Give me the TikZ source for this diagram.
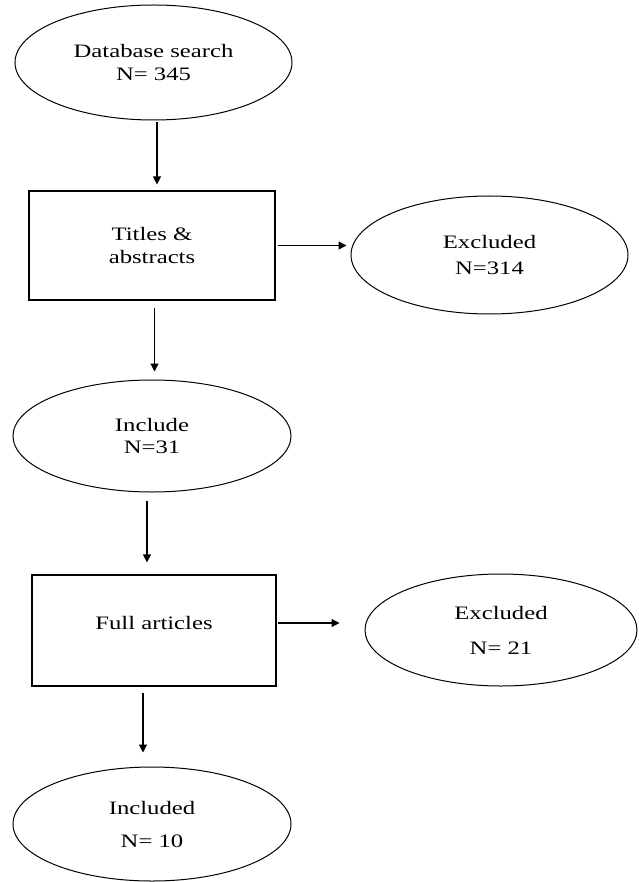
\documentclass[tikz,border=0pt]{standalone}
\usepackage{fontspec}
\setmainfont{Liberation Serif}[FakeStretch=1.3]
\usetikzlibrary{shapes.geometric,arrows.meta}

\begin{document}
\begin{tikzpicture}[x=1pt, y=-1pt,
    every node/.style={font=\fontsize{19}{22.5}\selectfont, align=center, inner sep=0pt},
    oval/.style={draw, ellipse, line width=1pt},
    box/.style={draw, rectangle, line width=1.2pt},
    arr/.style={-{Triangle[length=8pt,width=8pt]}, line width=1.2pt}]
    \useasboundingbox (0,0) rectangle (638,882);

    % 椭圆与方框
    \node[oval, minimum width=277pt, minimum height=115pt] (search) at (153.5,62.5) {Database search\\N= 345};
    \node[box, minimum width=246pt, minimum height=109pt] (titles) at (152,245.5) {Titles \&\\abstracts};
    \node[oval, minimum width=277pt, minimum height=118pt] (excl1) at (489.5,255) {Excluded\\[3.5pt]N=314};
    \node[oval, minimum width=278pt, minimum height=112pt] (incl1) at (152,436) {Include\\N=31};
    \node[box, minimum width=244pt, minimum height=111pt] (full) at (154,630.5) {\raisebox{0pt}[\height][16pt]{Full articles}};
    \node[oval, minimum width=272pt, minimum height=112pt] (excl2) at (501,630) {Excluded\\[12.5pt]N= 21};
    \node[oval, minimum width=278pt, minimum height=114pt] (incl2) at (152,824) {Included\\[10.5pt]N= 10};

    % 箭头
    \draw[arr, shorten <=2pt, shorten >=6pt] ([xshift=3.5pt]search.south) -- ([xshift=3.5pt]search.south |- titles.north);
    \draw[arr, shorten <=2pt, shorten >=4pt] (titles.east) -- (titles.east -| excl1.west);
    \draw[arr, shorten <=7pt, shorten >=8pt] ([xshift=2.5pt]titles.south) -- ([xshift=2.5pt]titles.south |- incl1.north);
    \draw[arr, shorten <=8pt, shorten >=12pt] ([xshift=-5pt]incl1.south) -- ([xshift=-5pt]incl1.south |- full.north);
    \draw[arr, shorten <=1pt, shorten >=25pt] ([yshift=7.5pt]full.east) -- ([yshift=7.5pt]full.east -| excl2.west);
    \draw[arr, shorten <=6pt, shorten >=14pt] ([xshift=-11pt]full.south) -- ([xshift=-11pt]full.south |- incl2.north);
\end{tikzpicture}
\end{document}
